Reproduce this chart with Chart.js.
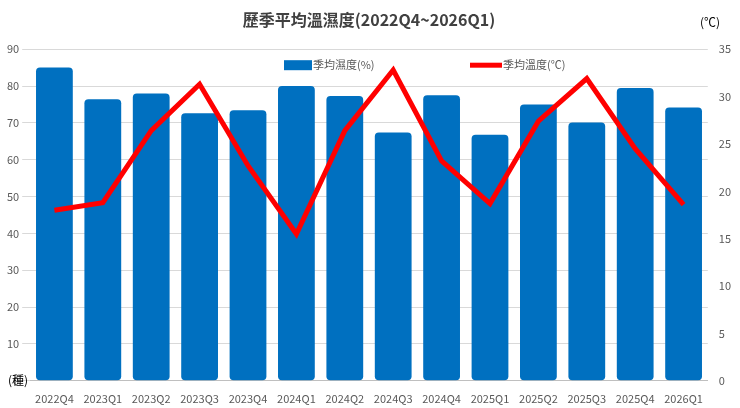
<!DOCTYPE html>
<html>
<head>
<meta charset="utf-8">
<script src="https://cdn.jsdelivr.net/npm/chart.js@4"></script>
<style>
body { margin: 0; background: #fff; }
#wrap { width: 740px; height: 408px; }
</style>
</head>
<body>
<div id="wrap"><canvas id="c"></canvas></div>
<script>
// 季度
const quarters = ['2022Q4','2023Q1','2023Q2','2023Q3','2023Q4','2024Q1','2024Q2','2024Q3','2024Q4','2025Q1','2025Q2','2025Q3','2025Q4','2026Q1'];
// 季均濕度 (%)
const humidity = [85, 76.4, 78, 72.6, 73.4, 80, 77.3, 67.4, 77.5, 66.8, 75, 70.1, 79.5, 74.2];
// 季均溫度 (℃)
const temperature = [18.0, 18.8, 26.4, 31.3, 22.7, 15.5, 26.4, 32.8, 23.2, 18.7, 27.4, 31.9, 24.5, 18.6];

const labelFont = { family: 'Noto Sans CJK TC', size: 11 };

// 圖例畫在繪圖區內
const legendInside = {
    id: 'legendInside',
    afterDraw(chart) {
        const ctx = chart.ctx;
        const top = chart.chartArea.top;
        ctx.save();
        ctx.font = '11px "Noto Sans CJK TC"';
        ctx.textBaseline = 'middle';
        ctx.fillStyle = '#0070C0';
        ctx.fillRect(284, top + 11, 28, 10);
        ctx.fillStyle = '#595959';
        ctx.fillText('季均濕度(%)', 313, top + 16);
        ctx.strokeStyle = '#FF0000';
        ctx.lineWidth = 5;
        ctx.beginPath();
        ctx.moveTo(470, top + 16);
        ctx.lineTo(502, top + 16);
        ctx.stroke();
        ctx.fillText('季均溫度(℃)', 503, top + 16);
        // 單位
        ctx.fillStyle = '#000';
        ctx.font = '12px "Noto Sans CJK TC"';
        ctx.fillText('(℃)', 700, 22);
        ctx.fillText('(種)', 8, 380);
        ctx.restore();
    }
};

new Chart(document.getElementById('c'), {
    data: {
        labels: quarters,
        datasets: [
            {
                type: 'line',
                label: '季均溫度(℃)',
                data: temperature,
                yAxisID: 'y1',
                borderColor: '#FF0000',
                borderWidth: 5,
                pointRadius: 0,
                tension: 0,
                order: 0
            },
            {
                type: 'bar',
                label: '季均濕度(%)',
                data: humidity,
                yAxisID: 'y',
                backgroundColor: '#0070C0',
                borderRadius: 4,
                borderSkipped: false,
                barPercentage: 0.76,
                categoryPercentage: 1,
                order: 1
            }
        ]
    },
    options: {
        responsive: true,
        maintainAspectRatio: false,
        animation: false,
        layout: { padding: { left: 4, right: 6, top: 0, bottom: 0 } },
        plugins: {
            legend: { display: false },
            title: {
                display: true,
                text: '歷季平均溫濕度(2022Q4~2026Q1)',
                color: '#404040',
                font: { family: 'Noto Sans CJK TC', size: 16, weight: 'bold' },
                padding: { top: 10, bottom: 20 }
            }
        },
        scales: {
            x: {
                grid: { display: false },
                border: { color: '#bfbfbf' },
                ticks: { color: '#595959', font: labelFont, maxRotation: 0 }
            },
            y: {
                min: 0, max: 90,
                ticks: { stepSize: 10, color: '#595959', font: labelFont },
                grid: { color: '#d9d9d9' },
                border: { display: false }
            },
            y1: {
                position: 'right',
                min: 0, max: 35,
                ticks: { stepSize: 5, color: '#595959', font: labelFont },
                grid: { display: false },
                border: { display: false }
            }
        }
    },
    plugins: [legendInside]
});
</script>
</body>
</html>
